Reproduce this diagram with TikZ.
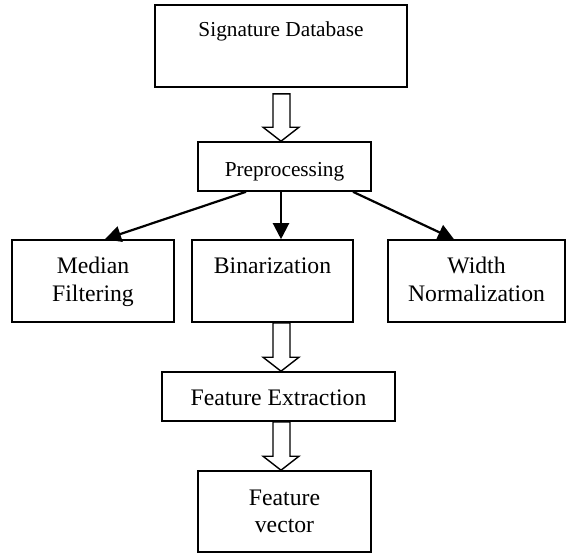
\documentclass[tikz,border=0pt]{standalone}
\usepackage{fontspec}
\setmainfont{Liberation Serif}
\usetikzlibrary{arrows.meta,calc}
\begin{document}
\begin{tikzpicture}[x=1pt,y=-1pt,
  box/.style={draw, line width=1.6pt, inner sep=0pt, fill=white},
  txta/.style={font=\fontsize{21.3pt}{25pt}\selectfont, anchor=base, inner sep=0pt},
  txtb/.style={font=\fontsize{23.7pt}{28pt}\selectfont, anchor=base, inner sep=0pt},
  conn/.style={line width=2.2pt, -{Triangle[length=16pt,width=16pt]}},
  hollow/.style={draw, line width=1.4pt, fill=white, line join=miter}]
\useasboundingbox (0,0) rectangle (567,554);

% boxes
\node[box, minimum width=252pt, minimum height=82pt] (sig) at (281,46) {};
\node[txta] (sigt) at (281,36) {Signature Database};

\node[box, minimum width=173pt, minimum height=49pt] (pre) at (284.5,166.5) {};
\node[txta] (pret) at (284.5,176) {Preprocessing};

\node[box, minimum width=162pt, minimum height=82pt] (med) at (93,281) {};
\node[txtb] (medt1) at (93,273) {Median};
\node[txtb] (medt2) at (93,301) {Filtering};

\node[box, minimum width=161pt, minimum height=82pt] (bin) at (272.5,281) {};
\node[txtb] (bint) at (272.5,273) {Binarization};

\node[box, minimum width=177pt, minimum height=82pt] (wid) at (476.5,281) {};
\node[txtb] (widt1) at (476.5,273) {Width};
\node[txtb] (widt2) at (476.5,301) {Normalization};

\node[box, minimum width=233pt, minimum height=49pt] (fe) at (278.5,396.5) {};
\node[txtb] (fet) at (278.5,405) {Feature Extraction};

\node[box, minimum width=173pt, minimum height=81pt] (fv) at (284.5,511.5) {};
\node[txtb] (fvt1) at (284.5,505) {Feature};
\node[txtb] (fvt2) at (284.5,532) {vector};

% thin arrows
\draw[conn] ([xshift=-38.5pt]pre.south) -- ([xshift=12pt]med.north);
\draw[conn] ([xshift=-3.5pt]pre.south) -- ([xshift=8.5pt]bin.north);
\draw[conn] ([xshift=68.5pt]pre.south) -- ([xshift=-22.5pt]wid.north);

% hollow block arrows
\path[hollow] let \p1=(sig.south), \p2=(pre.north) in
  (273pt,\y1-6pt) -- (273pt,\y2+14pt) -- (263pt,\y2+14pt) -- (281pt,\y2)
  -- (299pt,\y2+14pt) -- (290pt,\y2+14pt) -- (290pt,\y1-6pt) -- cycle;
\path[hollow] let \p1=(bin.south), \p2=(fe.north) in
  (273pt,\y1) -- (273pt,\y2+14pt) -- (263pt,\y2+14pt) -- (281pt,\y2)
  -- (299pt,\y2+14pt) -- (290pt,\y2+14pt) -- (290pt,\y1) -- cycle;
\path[hollow] let \p1=(fe.south), \p2=(fv.north) in
  (273pt,\y1) -- (273pt,\y2+14pt) -- (263pt,\y2+14pt) -- (281pt,\y2)
  -- (299pt,\y2+14pt) -- (290pt,\y2+14pt) -- (290pt,\y1) -- cycle;
\end{tikzpicture}
\end{document}
